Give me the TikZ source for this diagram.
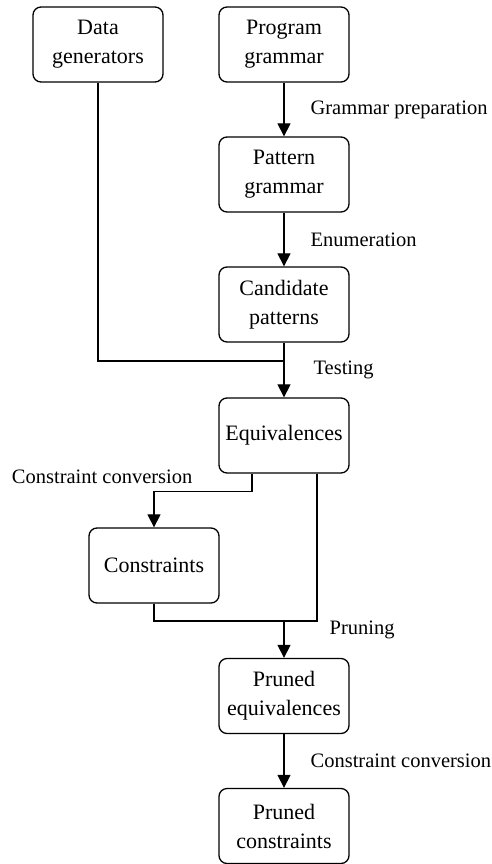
\documentclass[tikz,border=0pt]{standalone}
\usepackage{fontspec}
\setmainfont{Liberation Serif}
\usepackage{tikz}
\usetikzlibrary{arrows.meta,positioning}

\begin{document}
\begin{tikzpicture}[x=1pt, y=-1pt, node distance=130pt]
    % Define styles
    \tikzstyle{block} = [rectangle, draw, line width=1.3pt, rounded corners=8pt, minimum width=130pt, minimum height=75pt, align=center, font=\fontsize{22}{29}\selectfont]
    \tikzstyle{steplabel} = [inner sep=0pt, font=\fontsize{20.5}{24}\selectfont]
    \tikzstyle{line} = [line width=1.2pt]
    \tikzstyle{arrow} = [line width=1.2pt, ->, >={Triangle[width=13pt,length=13pt]}]

    \useasboundingbox (0,0) rectangle (491,864);

    % Main column
    \node [block] (prog) at (284,44.5) {Program\\grammar};
    \node [block, left of=prog, node distance=186pt] (gen) {Data\\generators};
    \node [block, below of=prog] (pat) {Pattern\\grammar};
    \node [block, below of=pat] (cand) {Candidate\\patterns};
    \node [block, below of=cand, node distance=131pt] (equiv) {Equivalences};
    \node [block] (cons) at (154,565.5) {Constraints};
    \node [block, below of=equiv, node distance=260.5pt] (peq) {Pruned\\equivalences};
    \node [block, below of=peq] (pcons) {Pruned\\constraints};

    % Joins
    \coordinate (join) at (284,361);
    \coordinate (merge) at (284,621);

    % Arrows
    \draw [arrow] (prog) -- (pat) node (prep) [steplabel, midway, right=26pt] {Grammar preparation};
    \draw [arrow] (pat) -- (cand) node (enum) [steplabel, midway, right=26pt] {Enumeration};
    \draw [line] (gen) |- (join);
    \draw [arrow] (cand) -- (equiv) node (test) [steplabel, midway, right=29pt] {Testing};
    \draw [arrow] ([xshift=-32pt]equiv.south) -- ++(0,18) -| node (convA) [steplabel, pos=0.5, anchor=base east, xshift=39pt, yshift=8pt] {Constraint conversion} (cons);
    \draw [line] ([xshift=33pt]equiv.south) |- (merge);
    \draw [line] (cons) |- (merge);
    \draw [arrow] (merge) -- (peq) node (prune) [steplabel, pos=0.25, right=45pt] {Pruning};
    \draw [arrow] (peq) -- (pcons) node (convB) [steplabel, midway, right=26pt] {Constraint conversion};
\end{tikzpicture}
\end{document}
